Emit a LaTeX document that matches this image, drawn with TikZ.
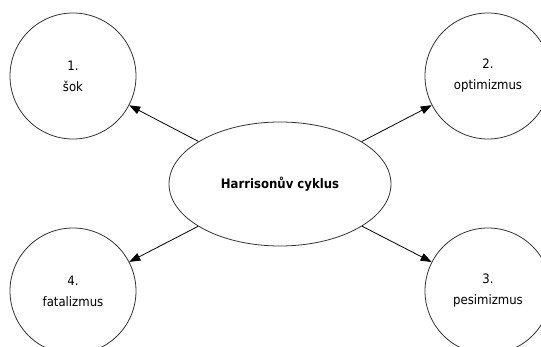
\documentclass[tikz,border=0pt]{standalone}
\usepackage{fontspec}
\setmainfont{DejaVu Sans Condensed}
\usepackage{tikz}
\usetikzlibrary{arrows.meta,shapes.geometric}

\begin{document}
\begin{tikzpicture}[x=1pt,y=-1pt,
  phase/.style={draw=black!80,circle,minimum size=126pt,inner sep=0pt,align=center,
    font=\fontsize{13}{21}\selectfont,line width=0.8pt},
  hub/.style={draw=black!80,ellipse,minimum width=222pt,minimum height=124pt,inner sep=0pt,
    font=\fontsize{13}{15}\selectfont\bfseries,line width=0.8pt},
  >={Triangle[length=11pt,width=8pt]}, every edge/.style={draw,->,line width=0.8pt}]
  \useasboundingbox (0,0) rectangle (541,347);
  \node[hub] (cyc) at (280,184){Harrisonův cyklus};
  \node[phase] (sok) at (73,76){1.\\šok};
  \node[phase] (opt) at (488,76){2.\\optimizmus};
  \node[phase] (pes) at (488,291){3.\\pesimizmus};
  \node[phase] (fat) at (73,291){4.\\fatalizmus};
  \draw(cyc)edge(sok); \draw(cyc)edge(opt); \draw(cyc)edge(pes); \draw(cyc)edge(fat);
\end{tikzpicture}
\end{document}
